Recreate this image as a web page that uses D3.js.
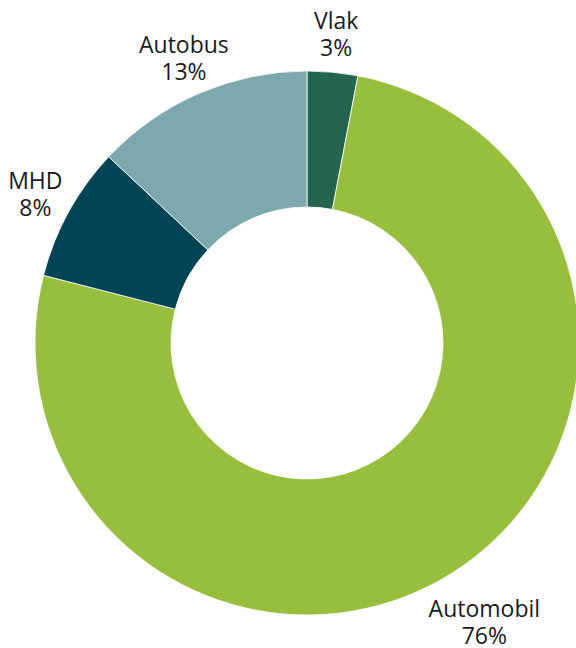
<!DOCTYPE html>
<html>
<head>
<meta charset="utf-8">
<script src="https://d3js.org/d3.v7.min.js"></script>
<style>
  body { margin: 0; background: #fff; }
  text { font-family: "Open Sans", sans-serif; font-size: 23px; fill: #1a1a1a; }
</style>
</head>
<body>
<script>

// data, clockwise from 12 o'clock
var categories = ["Vlak", "Automobil", "MHD", "Autobus"];
var shares = [3, 76, 8, 13];
var colors = ["#256450", "#97be3d", "#014454", "#7da8ad"];

var width = 576, height = 648;
var cx = 307, cy = 343;
var outerR = 272, innerR = 136;

var svg = d3.select("body").append("svg")
    .attr("width", width)
    .attr("height", height);

var g = svg.append("g")
    .attr("transform", "translate(" + cx + "," + cy + ")");

var pie = d3.pie().sort(null).value(function(d) { return d; });
var arcs = pie(shares);

var arc = d3.arc().innerRadius(innerR).outerRadius(outerR);

g.selectAll("path")
    .data(arcs)
  .enter().append("path")
    .attr("d", arc)
    .attr("fill", function(d, i) { return colors[i]; })
    .attr("stroke", "#fff")
    .attr("stroke-width", 0.8);

// labels sit outside the ring, on the slice's middle angle
function labelPos(d, i) {
  var a = (d.startAngle + d.endAngle) / 2;
  var r = categories[i] == "Automobil" ? 331 : 310;
  return [Math.sin(a) * r, -Math.cos(a) * r];
}

var labels = g.selectAll("text.lbl")
    .data(arcs)
  .enter().append("text")
    .attr("class", "lbl")
    .attr("text-anchor", "middle")
    .attr("transform", function(d, i) {
      var p = labelPos(d, i);
      return "translate(" + p[0] + "," + p[1] + ")";
    });

labels.append("tspan")
    .attr("x", 0)
    .attr("y", -5)
    .text(function(d, i) { return categories[i]; });

labels.append("tspan")
    .attr("x", 0)
    .attr("y", 22)
    .text(function(d, i) { return shares[i] + "%"; });

</script>
</body>
</html>
